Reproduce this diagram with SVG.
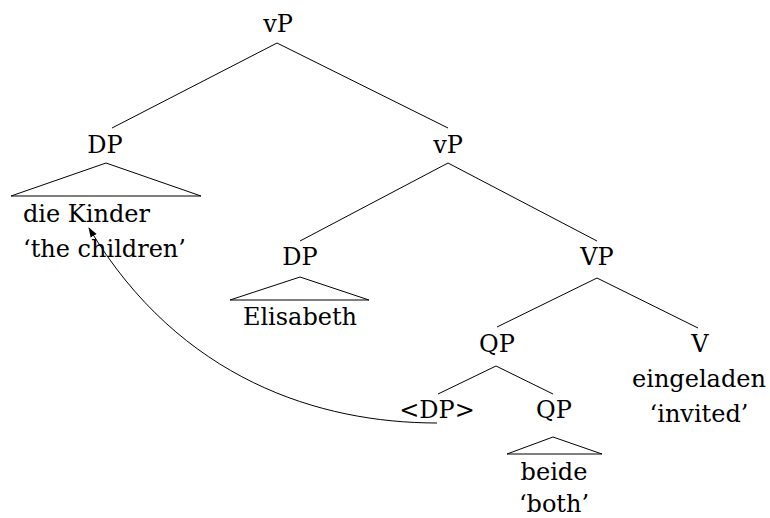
<svg xmlns="http://www.w3.org/2000/svg" width="770" height="518" viewBox="0 0 770 518">
<style>
text{font-family:"DejaVu Serif",serif;font-size:24px;fill:#000}
.c{text-anchor:middle}
line,polygon,path{stroke:#000;stroke-width:1;fill:none}
</style>
<defs>
<marker id="ah" viewBox="0 0 10 10" refX="9" refY="5" markerWidth="10" markerHeight="10" markerUnits="userSpaceOnUse" orient="auto">
<path d="M0,1.5 L10,5 L0,8.5 Z" style="fill:#000;stroke:none"/>
</marker>
</defs>
<rect width="770" height="518" fill="#fff"/>
<g id="connectors">
<line x1="277" y1="43" x2="112" y2="128"/>
<line x1="277" y1="43" x2="448" y2="128"/>
<line x1="448" y1="163" x2="300" y2="241"/>
<line x1="448" y1="163" x2="597" y2="241"/>
<line x1="597" y1="278" x2="497" y2="327"/>
<line x1="597" y1="278" x2="698" y2="328"/>
<line x1="496" y1="366" x2="438" y2="394"/>
<line x1="496" y1="366" x2="553" y2="394"/>
<path d="M437,423 C320,423 180,380 89,228" marker-end="url(#ah)"/>
</g>
<g id="vP-top"><text class="c" x="278" y="32">vP</text></g>
<g id="DP-subject">
<text class="c" x="105" y="153">DP</text>
<polygon points="106,163 11,196 201,196"/>
<text x="23" y="222">die Kinder</text>
<text x="23" y="257">‘the children’</text>
</g>
<g id="vP-mid"><text class="c" x="448" y="153">vP</text></g>
<g id="DP-Elisabeth">
<text class="c" x="300" y="265">DP</text>
<polygon points="300,277 230,300 369,300"/>
<text class="c" x="300" y="325">Elisabeth</text>
</g>
<g id="VP"><text class="c" x="597" y="265">VP</text></g>
<g id="QP-upper"><text class="c" x="497" y="352">QP</text></g>
<g id="V">
<text class="c" x="700" y="352">V</text>
<text class="c" x="699" y="387">eingeladen</text>
<text class="c" x="699" y="422">‘invited’</text>
</g>
<g id="DP-trace"><text class="c" x="437" y="418">&lt;DP&gt;</text></g>
<g id="QP-lower">
<text class="c" x="554" y="418">QP</text>
<polygon points="553,437 507,454 602,454"/>
<text class="c" x="554" y="480">beide</text>
<text class="c" x="554" y="512">‘both’</text>
</g>
</svg>
